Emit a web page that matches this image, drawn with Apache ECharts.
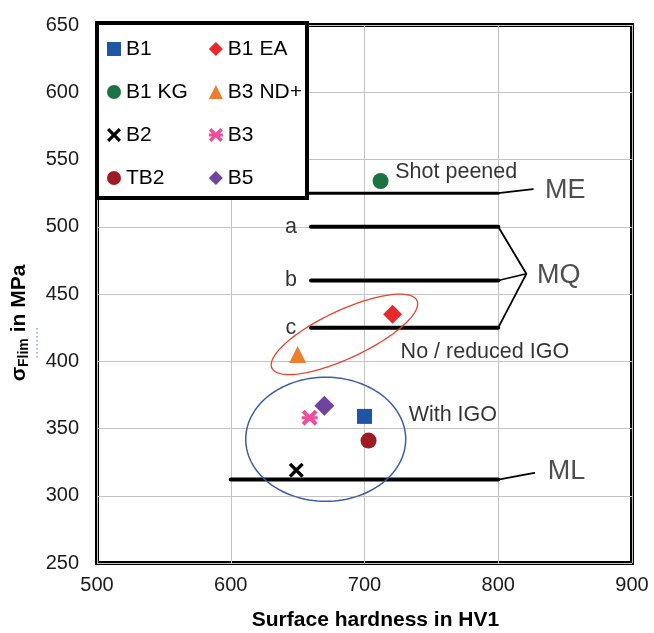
<!DOCTYPE html>
<html>
<head>
<meta charset="utf-8">
<script src="https://cdn.jsdelivr.net/npm/echarts@6/dist/echarts.min.js"></script>
<style>html,body{margin:0;padding:0;background:#fff}#c{width:654px;height:633px}</style>
</head>
<body>
<div id="c"></div>
<script>
// ---- data ----
const sampleNames = ['B1', 'B1 EA', 'B1 KG', 'B3 ND+', 'B2', 'B3', 'TB2', 'B5'];
const hardnessHV1 = [700, 721, 712, 650, 649, 659, 703, 670];
const sigmaFlim   = [359, 435, 534, 405, 319, 358, 341, 367];
const legendOrder = ['B1', 'B1 KG', 'B2', 'TB2', 'B1 EA', 'B3 ND+', 'B3', 'B5'];

const xTicks = [500, 600, 700, 800, 900];
const yTicks = [250, 300, 350, 400, 450, 500, 550, 600, 650];

// strength-class reference lines (hardness range, strength value)
const lineME = [[600, 525], [800, 525]];
const lineMQa = [[660, 500], [800, 500]];
const lineMQb = [[660, 460], [800, 460]];
const lineMQc = [[660, 425], [800, 425]];
const lineML = [[600, 312], [800, 312]];
// leader lines to the class labels
const leaderME = [[800, 525], [826, 528]];
const leaderMQ = [[800, 500], [821, 465], [800, 425]];
const leaderMQb = [[800, 460], [821, 465]];
const leaderML = [[800, 312], [827, 317]];

// annotation texts with anchor in data coordinates
const annoTexts = ['Shot peened', 'No / reduced IGO', 'With IGO', 'a', 'b', 'c'];
const annoX = [723, 727, 733, 645, 645, 645];
const annoY = [541, 407, 360, 500, 460, 425];
const classTexts = ['ME', 'MQ', 'ML'];
const classX = [835, 829, 837];
const classY = [527, 464, 318];

// ellipse groupings: centre (data)
const ellipseCentres = [[685, 420], [671, 342]];

// ---- styles ----
const colors = {
  'B1': '#1f55a5', 'B1 EA': '#e8282b', 'B1 KG': '#1a7340', 'B3 ND+': '#ee7d31',
  'B2': '#000000', 'B3': '#ee4f9c', 'TB2': '#9e1b24', 'B5': '#7043a0'
};
const X_PATH = 'path://M0,1.6 L1.6,0 L10,8.4 L8.4,10 Z M8.4,0 L10,1.6 L1.6,10 L0,8.4 Z';
const STAR_PATH = 'path://M0,1.8 L1.8,0 L10,8.2 L8.2,10 Z M8.2,0 L10,1.8 L1.8,10 L0,8.2 Z M0,4 L10,4 L10,6 L0,6 Z';
const symbols = {
  'B1': ['rect', 15], 'B1 EA': ['diamond', 19], 'B1 KG': ['circle', 16], 'B3 ND+': ['triangle', 17],
  'B2': [X_PATH, 15], 'B3': [STAR_PATH, 16], 'TB2': ['circle', 16], 'B5': ['diamond', 20]
};
const ellipseStyle = [
  { a: 80, b: 24, rot: 25, color: '#e8432f', w: 1.3 },
  { a: 80, b: 62, rot: 0, color: '#3b5bab', w: 1.5 }
];
const FONT = '"Liberation Sans", Arial, sans-serif';

const chart = echarts.init(document.getElementById('c'), null, { renderer: 'canvas' });

const series = [];
sampleNames.forEach((n, i) => {
  series.push({
    name: n, type: 'scatter', z: 5,
    symbol: symbols[n][0], symbolSize: symbols[n][1],
    itemStyle: { color: colors[n], opacity: 1 },
    data: [[hardnessHV1[i], sigmaFlim[i]]],
    emphasis: { disabled: true }
  });
});

function lineSeries(data, width) {
  return {
    type: 'line', data: data, symbol: 'none', silent: true, z: 2,
    lineStyle: { color: '#000', width: width, cap: 'round' }, animation: false
  };
}
series.push(lineSeries(lineME, 3));
series.push(lineSeries(lineMQa, 4));
series.push(lineSeries(lineMQb, 4));
series.push(lineSeries(lineMQc, 4));
series.push(lineSeries(lineML, 4));
series.push(lineSeries(leaderME, 1.6));
series.push(lineSeries(leaderMQ, 1.8));
series.push(lineSeries(leaderMQb, 1.6));
series.push(lineSeries(leaderML, 1.6));

// ellipses
series.push({
  type: 'custom', silent: true, z: 3,
  data: ellipseCentres,
  renderItem: function (params, api) {
    const st = ellipseStyle[params.dataIndex];
    const c = api.coord([api.value(0), api.value(1)]);
    const pts = [];
    const r = -st.rot * Math.PI / 180;
    for (let k = 0; k <= 120; k++) {
      const t = k / 120 * Math.PI * 2;
      const ex = st.a * Math.cos(t), ey = st.b * Math.sin(t);
      pts.push([c[0] + ex * Math.cos(r) - ey * Math.sin(r), c[1] + ex * Math.sin(r) + ey * Math.cos(r)]);
    }
    return { type: 'polyline', shape: { points: pts }, style: { fill: null, stroke: st.color, lineWidth: st.w } };
  }
});

// annotation texts
series.push({
  type: 'scatter', silent: true, symbolSize: 0, z: 6,
  data: annoTexts.map((t, i) => ({ value: [annoX[i], annoY[i]], name: t,
    label: { align: (t.length === 1 ? 'center' : 'left') } })),
  label: {
    show: true, position: [0, 0], verticalAlign: 'middle',
    formatter: p => p.name, color: '#000', fontFamily: FONT, fontSize: 21.5
  }
});
series.push({
  type: 'scatter', silent: true, symbolSize: 0, z: 6,
  data: classTexts.map((t, i) => ({ value: [classX[i], classY[i]], name: t })),
  label: {
    show: true, position: [0, 0], align: 'left', verticalAlign: 'middle',
    formatter: p => p.name, color: '#222', fontFamily: FONT, fontSize: 27
  }
});

const option = {
  animation: false,
  backgroundColor: '#fff',
  grid: { left: 97, right: 22, top: 25, bottom: 70, containLabel: false, outerBoundsMode: 'none',
    show: true, borderColor: '#000', borderWidth: 4, backgroundColor: 'transparent' },
  xAxis: {
    type: 'value', min: xTicks[0], max: xTicks[xTicks.length - 1], interval: 100,
    axisLine: { show: false }, axisTick: { show: false },
    splitLine: { show: true, lineStyle: { color: '#c3c3c3', width: 1 } },
    axisLabel: { color: '#1a1a1a', fontFamily: FONT, fontSize: 20, margin: 12 },
    name: 'Surface hardness in HV1', nameLocation: 'middle', nameGap: 47,
    nameTextStyle: { color: '#000', fontFamily: FONT, fontSize: 21, fontWeight: 'bold', padding: [0, 0, 0, 22] }
  },
  yAxis: {
    type: 'value', min: yTicks[0], max: yTicks[yTicks.length - 1], interval: 50,
    axisLine: { show: false }, axisTick: { show: false },
    splitLine: { show: true, lineStyle: { color: '#c3c3c3', width: 1 } },
    axisLabel: { color: '#1a1a1a', fontFamily: FONT, fontSize: 20, margin: 18 }
  },
  legend: {
    orient: 'vertical', left: 102, top: 33, height: 160,
    itemWidth: 14, itemHeight: 14, itemGap: 21,
    data: legendOrder,
    textStyle: { color: '#000', fontFamily: FONT, fontSize: 21, lineHeight: 22 },
    selectedMode: false, z: 10
  },
  graphic: [
    { type: 'rect', z: 8, shape: { x: 97, y: 23, width: 210, height: 175 },
      style: { fill: '#fff', stroke: '#000', lineWidth: 4 } },
    { type: 'text', z: 8, x: 19, y: 323, rotation: Math.PI / 2,
      style: {
        text: '{a|σ}{s|Flim}{a| in MPa}', align: 'center', verticalAlign: 'middle',
        rich: {
          a: { fontFamily: FONT, fontSize: 21, fontWeight: 'bold', fill: '#000', lineHeight: 24 },
          s: { fontFamily: FONT, fontSize: 14, fontWeight: 'bold', fill: '#000', lineHeight: 14, verticalAlign: 'bottom' }
        }
      } },
    { type: 'line', z: 8, shape: { x1: 37, y1: 328, x2: 37, y2: 360 },
      style: { stroke: '#5b7fc0', lineWidth: 1, lineDash: [1.5, 2.5] } }
  ],
  series: series
};
chart.setOption(option);
</script>
</body>
</html>
